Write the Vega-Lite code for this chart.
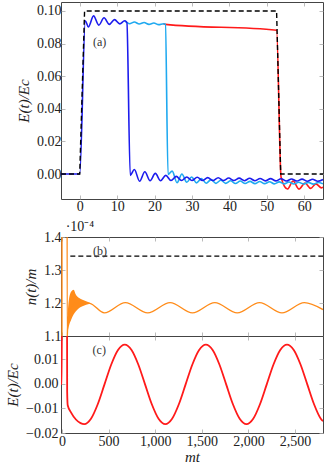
{
  "$schema": "https://vega.github.io/schema/vega-lite/v6.json",
  "padding": {"left": 5, "top": 1, "right": 0, "bottom": 0},
  "config": {
    "font": "Liberation Serif",
    "view": {"stroke": "#444", "strokeWidth": 1},
    "axis": {"domain": false, "grid": false, "ticks": true, "tickSize": -4, "tickColor": "#aaa", "tickWidth": 0.8,
      "labelFont": "Liberation Serif", "labelFontSize": 14, "labelColor": "#222", "labelPadding": 4, "labelFlush": false, "labelOverlap": false,
      "titleFont": "Liberation Serif", "titleFontSize": 15, "titleFontStyle": "italic", "titleFontWeight": "normal", "titleColor": "#222", "titlePadding": 5}
  },
  "datasets": {
    "a_pulse": [{"t": -5, "v": 0}, {"t": 0, "v": 0}, {"t": 1.3, "v": 0.1}, {"t": 52.6, "v": 0.1}, {"t": 53.7, "v": 0}, {"t": 65, "v": 0}],
    "a_blue": [{"t": -5, "v": 0}, {"t": 0, "v": 0}, {"t": 1.5, "v": 0.094}, {"t": 2.3, "v": 0.0902}, {"t": 3.7, "v": 0.097}, {"t": 5.1, "v": 0.0913}, {"t": 6.5, "v": 0.0958}, {"t": 7.9, "v": 0.0918}, {"t": 9.3, "v": 0.0947}, {"t": 10.7, "v": 0.0921}, {"t": 12.0, "v": 0.094}, {"t": 12.6, "v": 0.093}, {"t": 13.5, "v": -0.0008}, {"t": 14.6, "v": 0.0028}, {"t": 16.0, "v": -0.0044}, {"t": 17.4, "v": 0.0014}, {"t": 18.8, "v": -0.0041}, {"t": 20.2, "v": 0.0004}, {"t": 21.6, "v": -0.0041}, {"t": 23.0, "v": -0.0008}, {"t": 24.4, "v": -0.004}, {"t": 25.8, "v": -0.0014}, {"t": 27.2, "v": -0.004}, {"t": 28.6, "v": -0.0018}, {"t": 30.0, "v": -0.004}, {"t": 31.4, "v": -0.002}, {"t": 32.8, "v": -0.004}, {"t": 34.2, "v": -0.0022}, {"t": 35.6, "v": -0.004}, {"t": 37.0, "v": -0.0023}, {"t": 38.4, "v": -0.004}, {"t": 39.8, "v": -0.0024}, {"t": 41.2, "v": -0.004}, {"t": 42.6, "v": -0.0025}, {"t": 44.0, "v": -0.0041}, {"t": 45.4, "v": -0.0026}, {"t": 46.8, "v": -0.0041}, {"t": 48.2, "v": -0.0027}, {"t": 49.6, "v": -0.0042}, {"t": 51.0, "v": -0.0028}, {"t": 52.4, "v": -0.0042}, {"t": 53.8, "v": -0.0029}, {"t": 55.2, "v": -0.0043}, {"t": 56.6, "v": -0.003}, {"t": 58.0, "v": -0.0043}, {"t": 59.4, "v": -0.0031}, {"t": 60.8, "v": -0.0044}, {"t": 62.2, "v": -0.0032}, {"t": 63.6, "v": -0.0044}, {"t": 65.0, "v": -0.0034}],
    "a_light": [{"t": 12.0, "v": 0.094}, {"t": 13.3, "v": 0.0922}, {"t": 14.6, "v": 0.0932}, {"t": 15.9, "v": 0.092}, {"t": 17.2, "v": 0.0929}, {"t": 18.5, "v": 0.0918}, {"t": 19.8, "v": 0.0926}, {"t": 21.1, "v": 0.0916}, {"t": 22.4, "v": 0.0922}, {"t": 22.9, "v": 0.0918}, {"t": 23.6, "v": -0.0002}, {"t": 24.7, "v": 0.0018}, {"t": 26.0, "v": -0.0053}, {"t": 27.3, "v": 0.0}, {"t": 28.6, "v": -0.005}, {"t": 29.9, "v": -0.0018}, {"t": 31.2, "v": -0.0054}, {"t": 32.5, "v": -0.0028}, {"t": 33.8, "v": -0.0056}, {"t": 35.1, "v": -0.0034}, {"t": 36.4, "v": -0.0057}, {"t": 37.7, "v": -0.0038}, {"t": 39.0, "v": -0.0057}, {"t": 40.3, "v": -0.0041}, {"t": 41.6, "v": -0.0058}, {"t": 42.9, "v": -0.0043}, {"t": 44.2, "v": -0.0058}, {"t": 45.5, "v": -0.0045}, {"t": 46.8, "v": -0.0059}, {"t": 48.1, "v": -0.0046}, {"t": 49.4, "v": -0.0059}, {"t": 50.7, "v": -0.0047}, {"t": 52.0, "v": -0.006}, {"t": 53.3, "v": -0.0048}, {"t": 54.6, "v": -0.006}, {"t": 55.9, "v": -0.0049}, {"t": 57.2, "v": -0.0061}, {"t": 58.5, "v": -0.005}, {"t": 59.8, "v": -0.0061}, {"t": 61.1, "v": -0.0051}, {"t": 62.4, "v": -0.0062}, {"t": 63.7, "v": -0.0052}, {"t": 65.0, "v": -0.006}],
    "a_red": [{"t": 22.4, "v": 0.0922}, {"t": 22.9, "v": 0.0918}, {"t": 52.6, "v": 0.0882}, {"t": 53.8, "v": -0.002}, {"t": 55.5, "v": -0.0092}, {"t": 57.0, "v": -0.0043}, {"t": 58.6, "v": -0.0092}, {"t": 60.2, "v": -0.0055}, {"t": 61.7, "v": -0.0088}, {"t": 63.1, "v": -0.006}, {"t": 64.6, "v": -0.0085}, {"t": 65.0, "v": -0.008}],
    "a_lab": [{"t": 5.3, "v": 0.081, "label": "(a)"}],
    "b_n": [{"t": -10, "v": 0.5}, {"t": 0, "v": 0.5}, {"t": 1, "v": 3}, {"t": 52, "v": 3}, {"t": 56, "v": 1.09}, {"t": 62, "v": 1.14}, {"t": 90, "v": 1.18}, {"t": 120, "v": 1.195}, {"t": 150, "v": 1.2}, {"t": 180, "v": 1.2}, {"t": 220, "v": 1.2}, {"t": 260, "v": 1.2}, {"t": 300, "v": 1.199}, {"t": 455, "v": 1.17}, {"t": 680, "v": 1.201}, {"t": 920, "v": 1.17}, {"t": 1160, "v": 1.201}, {"t": 1400, "v": 1.17}, {"t": 1640, "v": 1.201}, {"t": 1880, "v": 1.17}, {"t": 2120, "v": 1.201}, {"t": 2360, "v": 1.17}, {"t": 2600, "v": 1.201}, {"t": 2800, "v": 1.18}],
    "b_band": [{"t": 60, "lo": 1.11, "hi": 1.16}, {"t": 75, "lo": 1.13, "hi": 1.21}, {"t": 100, "lo": 1.15, "hi": 1.235}, {"t": 125, "lo": 1.165, "hi": 1.24}, {"t": 150, "lo": 1.175, "hi": 1.225}, {"t": 185, "lo": 1.185, "hi": 1.215}, {"t": 220, "lo": 1.19, "hi": 1.21}, {"t": 260, "lo": 1.195, "hi": 1.205}, {"t": 300, "lo": 1.198, "hi": 1.201}],
    "b_dash": [{"t": 90, "v": 1.342}, {"t": 2800, "v": 1.342}],
    "b_lab": [{"t": 409, "v": 1.359, "label": "(b)"}],
    "b_scale": [{"t": 40, "v": 1.4, "label": "·10⁻⁴"}],
    "c_E": [{"t": -10, "v": 0}, {"t": 0, "v": 0}, {"t": 1, "v": 0.1}, {"t": 52.6, "v": 0.088}, {"t": 56, "v": -0.003}, {"t": 62, "v": -0.0087}, {"t": 100, "v": -0.0118}, {"t": 150, "v": -0.0145}, {"t": 200, "v": -0.016}, {"t": 239, "v": -0.0164}, {"t": 311.5, "v": -0.0142}, {"t": 384, "v": -0.0083}, {"t": 456.5, "v": -0.0002}, {"t": 529, "v": 0.0079}, {"t": 601.5, "v": 0.0138}, {"t": 674, "v": 0.016}, {"t": 746.5, "v": 0.0138}, {"t": 819, "v": 0.0079}, {"t": 891.5, "v": -0.0002}, {"t": 964, "v": -0.0083}, {"t": 1036.5, "v": -0.0142}, {"t": 1109, "v": -0.0164}, {"t": 1181.5, "v": -0.0142}, {"t": 1254, "v": -0.0083}, {"t": 1326.5, "v": -0.0002}, {"t": 1399, "v": 0.0079}, {"t": 1471.5, "v": 0.0138}, {"t": 1544, "v": 0.016}, {"t": 1616.5, "v": 0.0138}, {"t": 1689, "v": 0.0079}, {"t": 1761.5, "v": -0.0002}, {"t": 1834, "v": -0.0083}, {"t": 1906.5, "v": -0.0142}, {"t": 1979, "v": -0.0164}, {"t": 2051.5, "v": -0.0142}, {"t": 2124, "v": -0.0083}, {"t": 2196.5, "v": -0.0002}, {"t": 2269, "v": 0.0079}, {"t": 2341.5, "v": 0.0138}, {"t": 2414, "v": 0.016}, {"t": 2486.5, "v": 0.0138}, {"t": 2559, "v": 0.0079}, {"t": 2631.5, "v": -0.0002}, {"t": 2704, "v": -0.0083}, {"t": 2776.5, "v": -0.0142}, {"t": 2800, "v": -0.0152}],
    "c_lab": [{"t": 400, "v": 0.0136, "label": "(c)"}]
  },
  "spacing": 38,
  "bounds": "flush",
  "vconcat": [
    {
      "width": 262, "height": 197,
      "resolve": {"axis": {"x": "independent", "y": "independent"}},
      "encoding": {
        "x": {"field": "t", "type": "quantitative", "scale": {"domain": [-5, 65], "nice": false, "zero": false}, "axis": null},
        "y": {"field": "v", "type": "quantitative", "scale": {"domain": [-0.0153, 0.1055], "nice": false, "zero": false}, "axis": null}
      },
      "layer": [
        {"data": {"name": "a_red"}, "mark": {"type": "line", "color": "#ff1a1a", "strokeWidth": 1.6, "interpolate": "monotone", "clip": true},
         "encoding": {
           "x": {"field": "t", "type": "quantitative", "axis": {"values": [0, 10, 20, 30, 40, 50, 60], "title": null}},
           "y": {"field": "v", "type": "quantitative", "axis": {"values": [0, 0.02, 0.04, 0.06, 0.08, 0.1], "format": ".2f", "title": "E(t)/Ec"}}}},
        {"data": {"name": "a_light"}, "mark": {"type": "line", "color": "#1fa9f0", "strokeWidth": 1.6, "interpolate": "monotone", "clip": true}},
        {"data": {"name": "a_blue"}, "mark": {"type": "line", "color": "#1c1ced", "strokeWidth": 1.6, "interpolate": "monotone", "clip": true}},
        {"data": {"name": "a_pulse"}, "mark": {"type": "line", "color": "#000", "strokeWidth": 1.4, "strokeDash": [5, 3], "clip": true},
         "encoding": {
           "x": {"field": "t", "type": "quantitative", "axis": {"orient": "top", "values": [0, 10, 20, 30, 40, 50, 60], "labels": false, "title": null}},
           "y": {"field": "v", "type": "quantitative", "axis": {"orient": "right", "values": [0, 0.02, 0.04, 0.06, 0.08, 0.1], "labels": false, "title": null}}}},
        {"data": {"name": "a_lab"}, "mark": {"type": "text", "fontSize": 12, "color": "#333"}, "encoding": {"text": {"field": "label"}}}
      ]
    },
    {
      "spacing": 0,
      "bounds": "flush",
      "vconcat": [
        {
          "width": 262, "height": 99,
          "resolve": {"axis": {"x": "independent", "y": "independent"}},
          "encoding": {
            "x": {"field": "t", "type": "quantitative", "scale": {"domain": [-10, 2800], "nice": false, "zero": false}, "axis": null},
            "y": {"field": "v", "type": "quantitative", "scale": {"domain": [1.1, 1.4], "nice": false, "zero": false}, "axis": null}
          },
          "layer": [
            {"data": {"name": "b_band"}, "mark": {"type": "area", "color": "#ff8c1a", "interpolate": "monotone", "clip": true}, "encoding": {"y": {"field": "lo", "type": "quantitative", "axis": null}, "y2": {"field": "hi"}}},
            {"data": {"name": "b_n"}, "mark": {"type": "line", "color": "#ff8c1a", "strokeWidth": 1.4, "interpolate": "monotone", "clip": true},
             "encoding": {
               "x": {"field": "t", "type": "quantitative", "axis": {"values": [0, 500, 1000, 1500, 2000, 2500], "labels": false, "title": null}},
               "y": {"field": "v", "type": "quantitative", "axis": {"values": [1.1, 1.2, 1.3, 1.4], "format": ".1f", "title": "n(t)/m"}}}},
            {"data": {"name": "b_dash"}, "mark": {"type": "line", "color": "#000", "strokeWidth": 1.2, "strokeDash": [5, 3], "clip": true},
             "encoding": {
               "x": {"field": "t", "type": "quantitative", "axis": {"orient": "top", "values": [0, 500, 1000, 1500, 2000, 2500], "labels": false, "title": null}},
               "y": {"field": "v", "type": "quantitative", "axis": {"orient": "right", "values": [1.1, 1.2, 1.3, 1.4], "labels": false, "title": null}}}},
            {"data": {"name": "b_lab"}, "mark": {"type": "text", "fontSize": 12, "color": "#333"}, "encoding": {"text": {"field": "label"}}},
            {"data": {"name": "b_scale"}, "mark": {"type": "text", "fontSize": 14, "color": "#222", "align": "left", "dy": -10}, "encoding": {"text": {"field": "label"}}}
          ]
        },
        {
          "width": 262, "height": 97,
          "resolve": {"axis": {"x": "independent", "y": "independent"}},
          "encoding": {
            "x": {"field": "t", "type": "quantitative", "scale": {"domain": [-10, 2800], "nice": false, "zero": false}, "axis": null},
            "y": {"field": "v", "type": "quantitative", "scale": {"domain": [-0.02, 0.0195], "nice": false, "zero": false}, "axis": null}
          },
          "layer": [
            {"data": {"name": "c_E"}, "mark": {"type": "line", "color": "#ff1a1a", "strokeWidth": 1.8, "interpolate": "monotone", "clip": true},
             "encoding": {
               "x": {"field": "t", "type": "quantitative", "axis": {"values": [0, 500, 1000, 1500, 2000, 2500], "format": ",d", "title": "mt", "titlePadding": 1, "labelPadding": 5}},
               "y": {"field": "v", "type": "quantitative", "axis": {"values": [-0.02, -0.01, 0, 0.01], "format": ".2f", "title": "E(t)/Ec", "labelPadding": 7}}}},
            {"data": {"name": "c_lab"}, "mark": {"type": "text", "fontSize": 12, "color": "#333"},
             "encoding": {
               "text": {"field": "label"},
               "x": {"field": "t", "type": "quantitative", "axis": {"orient": "top", "values": [0, 500, 1000, 1500, 2000, 2500], "labels": false, "title": null}},
               "y": {"field": "v", "type": "quantitative", "axis": {"orient": "right", "values": [-0.02, -0.01, 0, 0.01], "labels": false, "title": null}}}}
          ]
        }
      ]
    }
  ]
}
